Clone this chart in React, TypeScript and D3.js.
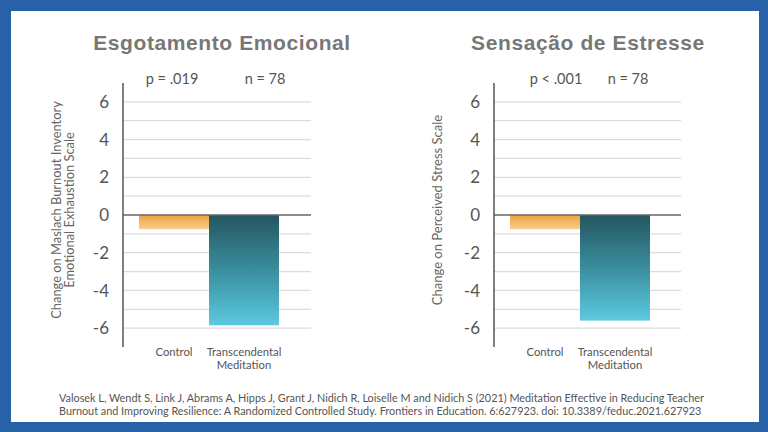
import React from "react";
import * as d3 from "d3";

const categories = ["Control", "Transcendental Meditation"];
const exhaustionValues = [-0.75, -5.85];
const stressValues = [-0.75, -5.6];
const yTicks = [-6, -4, -2, 0, 2, 4, 6];
const gridValues = [-6, -5, -4, -3, -2, -1, 1, 2, 3, 4, 5, 6];
const panelTitles = ["Esgotamento Emocional", "Sensação de Estresse"];
const pLabels = ["p = .019", "p < .001"];
const nLabels = ["n = 78", "n = 78"];
const yTitles = [
  ["Change on Maslach Burnout Inventory", "Emotional Exhaustion Scale"],
  ["Change on Perceived Stress Scale"],
];
const citation = [
  "Valosek L, Wendt S, Link J, Abrams A, Hipps J, Grant J, Nidich R, Loiselle M and Nidich S (2021) Meditation Effective in Reducing Teacher",
  "Burnout and Improving Resilience: A Randomized Controlled Study. Frontiers in Education. 6:627923. doi: 10.3389/feduc.2021.627923",
];

const y = d3.scaleLinear().domain([-7, 7]).range([347, 83]);

type PanelProps = {
  idx: number;
  values: number[];
  axisX: number;
  gridEnd: number;
  barStart: number;
  barEnd: number;
  titleX: number;
  pX: number;
  nX: number;
  yTitleX: number;
  yTitleSize: number;
};

function Panel(props: PanelProps) {
  const { idx, values, axisX, gridEnd, barStart, barEnd, titleX, pX, nX, yTitleX, yTitleSize } = props;
  const x = d3.scaleBand<string>().domain(categories).range([barStart, barEnd]).padding(0);
  const font = "Lato, 'Open Sans', sans-serif";
  const lines = yTitles[idx];
  return (
    <g>
      <text x={titleX} y={50} textAnchor="middle" fontFamily="'Liberation Sans', Arial, sans-serif" fontWeight="bold" fontSize={21} fill="#777" letterSpacing={0.6}>
        {panelTitles[idx]}
      </text>
      <text x={pX} y={84} textAnchor="middle" fontFamily={font} fontSize={14.5} fill="#555">{pLabels[idx]}</text>
      <text x={nX} y={84} textAnchor="middle" fontFamily={font} fontSize={14.5} fill="#555">{nLabels[idx]}</text>
      {gridValues.map((v) => (
        <line key={v} x1={axisX} x2={gridEnd} y1={y(v)} y2={y(v)} stroke="#dcdcdc" strokeWidth={1.2} />
      ))}
      {categories.map((c, i) => {
        const v = values[i];
        return (
          <rect key={c} x={x(c)} y={y(Math.max(0, v))} width={x.bandwidth()} height={Math.abs(y(v) - y(0))} fill={`url(#grad${i})`} />
        );
      })}
      <line x1={axisX} x2={gridEnd} y1={y(0)} y2={y(0)} stroke="#666" strokeWidth={1.5} />
      <line x1={axisX} x2={axisX} y1={y(7)} y2={y(-7)} stroke="#555" strokeWidth={1.5} />
      {yTicks.map((t) => (
        <text key={t} x={axisX - 14} y={y(t)} dy="0.36em" textAnchor="end" fontFamily={font} fontSize={17} fill="#555">
          {t}
        </text>
      ))}
      {categories.map((c) => {
        const words = c.split(" ");
        const cx = (x(c) as number) + x.bandwidth() / 2;
        return (
          <text key={c} x={cx} y={356} textAnchor="middle" fontFamily={font} fontSize={11.3} fill="#555">
            {words.map((w, k) => (
              <tspan key={k} x={cx} dy={k === 0 ? 0 : 13}>{w}</tspan>
            ))}
          </text>
        );
      })}
      <g transform={`translate(${yTitleX},${210}) rotate(-90)`}>
        {lines.map((l, k) => (
          <text key={k} x={0} y={(k - (lines.length - 1) / 2) * 13.5} dy="0.35em" textAnchor="middle" fontFamily={font} fontSize={yTitleSize} fill="#666">
            {l}
          </text>
        ))}
      </g>
    </g>
  );
}

export default function App() {
  return (
    <div style={{ position: "absolute", left: 0, top: 0 }}>
      <svg width={768} height={432} style={{ display: "block" }}>
        <defs>
          <linearGradient id="grad0" x1="0" y1="0" x2="0" y2="1">
            <stop offset="0%" stopColor="#efa03f" />
            <stop offset="100%" stopColor="#f8cf8c" />
          </linearGradient>
          <linearGradient id="grad1" x1="0" y1="0" x2="0" y2="1">
            <stop offset="0%" stopColor="#245660" />
            <stop offset="50%" stopColor="#3a8e9e" />
            <stop offset="100%" stopColor="#5cc9e0" />
          </linearGradient>
        </defs>
        <rect x={0} y={0} width={768} height={432} fill="#2762a8" />
        <rect x={11} y={11} width={748} height={411} fill="#ffffff" />
        <Panel idx={0} values={exhaustionValues} axisX={123} gridEnd={311} barStart={139} barEnd={279} titleX={222} pX={172} nX={265} yTitleX={63} yTitleSize={12.9} />
        <Panel idx={1} values={stressValues} axisX={494} gridEnd={681} barStart={510} barEnd={650} titleX={588} pX={556} nX={628} yTitleX={437} yTitleSize={13} />
        {citation.map((c, k) => (
          <text key={k} x={59} y={402 + k * 13} fontFamily="Lato, 'Open Sans', sans-serif" fontSize={10.85} fill="#555">
            {c}
          </text>
        ))}
      </svg>
    </div>
  );
}
